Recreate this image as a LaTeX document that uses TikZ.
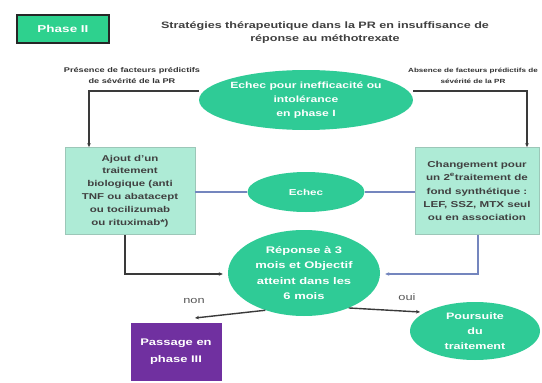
\documentclass[tikz,border=0pt]{standalone}
\usepackage{fontspec}
\setmainfont{Liberation Sans}[FakeStretch=1.35]
\usetikzlibrary{shapes.geometric,arrows.meta,positioning}
\definecolor{ellgreen}{HTML}{2FCB96}
\definecolor{boxmint}{HTML}{AEEBD6}
\definecolor{boxedge}{HTML}{9CC7B8}
\definecolor{phasegreen}{HTML}{2ED18E}
\definecolor{darkline}{HTML}{3A3A3A}
\definecolor{blueline}{HTML}{7486BE}
\definecolor{purplebox}{HTML}{7030A0}
\tikzset{
  x=1pt,y=-1pt,
  ell/.style={ellipse,fill=ellgreen,draw=none,text=white,font=\fontsize{9.3}{15}\selectfont\bfseries,align=center,inner sep=0pt},
  mintbox/.style={rectangle,fill=boxmint,draw=boxedge,line width=0.8pt,font=\fontsize{8.5}{12.8}\selectfont\bfseries,text=black!75,align=center,inner sep=0pt},
  darkarrow/.style={draw=darkline,line width=1.4pt,-{Stealth[length=4pt,width=3.5pt]}},
  bluearrow/.style={draw=blueline,line width=1.2pt,-{Stealth[length=4pt,width=3.5pt]}},
  smalllabel/.style={font=\fontsize{6.8}{11}\selectfont\bfseries,text=black!80,align=center,inner sep=0pt},
}
\begin{document}
\begin{tikzpicture}
\useasboundingbox (0,0) rectangle (542,383);
\fill[white] (0,0) rectangle (542,383);
% phase box
\node[rectangle,fill=phasegreen,draw=black!85,line width=1.6pt,minimum width=92pt,minimum height=28pt,text=white,font=\fontsize{10}{12}\selectfont\bfseries] (phase) at (63,29) {Phase II};
% title
\node[font=\fontsize{9.3}{13}\selectfont\bfseries,text=black!75,align=center,inner sep=0pt] (title) at (325,33) {Stratégies thérapeutique dans  la PR en insuffisance de\\réponse au méthotrexate};
% top ellipse
\node[ell,minimum width=205pt,minimum height=60pt,font=\fontsize{9}{14}\selectfont\bfseries] (top) at (306,100) {Echec pour inefficacité ou\\intolérance\\en phase I};
% side labels
\node[smalllabel] (lpres) at (132,76) {Présence de facteurs prédictifs\\de  sévérité de la PR};
\node[smalllabel,font=\fontsize{6}{11}\selectfont\bfseries] (labs) at (473,76) {Absence de facteurs prédictifs de\\sévérité de la PR};
% boxes
\node[mintbox,minimum width=130pt,minimum height=87pt] (left) at (130,191) {Ajout d'un\\traitement\\biologique (anti\\TNF  ou abatacept\\ou tocilizumab\\ou rituximab*)};
\node[mintbox,minimum width=124pt,minimum height=87pt,font=\fontsize{8.6}{13.3}\selectfont\bfseries] (right) at (477,191) {Changement pour\\un 2\textsuperscript{e}traitement de\\fond synthétique :\\LEF, SSZ, MTX seul\\ou en association};
% echec
\node[ell,minimum width=117pt,minimum height=40pt,font=\fontsize{8.6}{10}\selectfont\bfseries] (echec) at (306,192) {Echec};
% response
\node[ell,minimum width=152pt,minimum height=86pt,font=\fontsize{9.6}{15.5}\selectfont\bfseries] (resp) at (304,273) {Réponse à 3\\mois et Objectif\\atteint dans les\\6 mois};
% outcomes
\node[rectangle,fill=purplebox,draw=none,minimum width=91pt,minimum height=58pt,text=white,font=\fontsize{9.6}{17}\selectfont\bfseries,align=center] (pass) at (176,352) {Passage en\\phase III};
\node[ell,minimum width=130pt,minimum height=58pt] (pours) at (475,331) {Poursuite\\du\\traitement};
% connectors
\coordinate (tl) at (89,91);
\coordinate (tr) at (527,91);
\draw[darkarrow] (top.west |- tl) -- (tl) -- (tl |- left.north);
\draw[darkarrow] (top.east |- tr) -- (tr) -- (tr |- right.north);
\draw[draw=blueline,line width=1.2pt] (right.west |- echec) -- (echec.east);
\draw[draw=blueline,line width=1.2pt] (echec.west) -- (left.east |- echec);
\coordinate (bl) at (125,274);
\coordinate (br) at (478,274);
\draw[darkarrow,shorten >=5pt] (bl |- left.south) -- (bl) -- (resp.west |- bl);
\draw[bluearrow,shorten >=5pt] (br |- right.south) -- (br) -- (resp.east |- br);
\coordinate (nonend) at (195,318);
\coordinate (ouiend) at (420,312);
\draw[darkarrow] (resp.224) -- (nonend);
\draw[darkarrow] (resp.-38) -- (ouiend);
\node[font=\fontsize{9.5}{10}\selectfont,text=black!65] (non) at (194,301) {non};
\node[font=\fontsize{9.5}{10}\selectfont,text=black!65] (oui) at (407,297) {oui};
\end{tikzpicture}
\end{document}
